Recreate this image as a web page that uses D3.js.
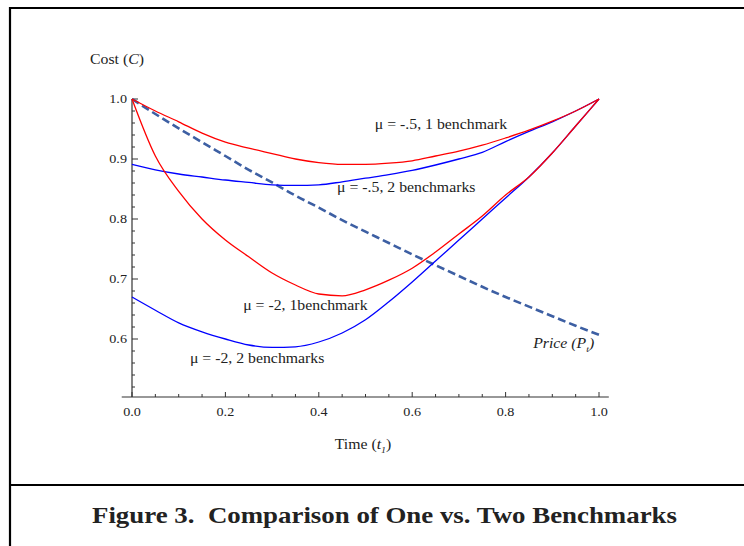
<!DOCTYPE html>
<html>
<head>
<meta charset="utf-8">
<script src="https://cdn.jsdelivr.net/npm/d3@7"></script>
<style>
body{margin:0;background:#fff;}
svg text{font-family:"Liberation Serif","Times New Roman",serif;fill:#222;}
</style>
</head>
<body>
<svg id="chart" width="744" height="546"></svg>
<script>
// time grid (t)
var times=[0,0.05,0.1,0.15,0.2,0.25,0.3,0.35,0.4,0.45,0.5,0.55,0.6,0.65,0.7,0.75,0.8,0.85,0.9,0.95,1.0];
// mu=-.5, one benchmark
var costHalfOne=[1.0,0.98,0.962,0.943,0.928,0.918,0.909,0.9,0.894,0.891,0.891,0.893,0.897,0.905,0.913,0.923,0.935,0.948,0.963,0.98,1.0];
// mu=-.5, two benchmarks
var costHalfTwo=[0.891,0.882,0.875,0.87,0.865,0.861,0.857,0.856,0.857,0.862,0.868,0.874,0.881,0.89,0.9,0.911,0.929,0.946,0.962,0.98,1.0];
// mu=-2, one benchmark
var costTwoOne=[1.0,0.905,0.846,0.8,0.765,0.737,0.71,0.69,0.675,0.672,0.682,0.698,0.718,0.745,0.775,0.805,0.84,0.87,0.91,0.955,1.0];
// mu=-2, two benchmarks
var costTwoTwo=[0.67,0.648,0.627,0.612,0.6,0.59,0.586,0.587,0.595,0.61,0.632,0.662,0.695,0.73,0.765,0.8,0.835,0.87,0.91,0.955,1.0];
// price path
var price=[1.0,0.975,0.951,0.928,0.905,0.882,0.861,0.839,0.819,0.798,0.779,0.76,0.741,0.723,0.705,0.687,0.67,0.654,0.638,0.622,0.607];

var xTicks=[0,0.2,0.4,0.6,0.8,1.0];
var yTicks=[0.6,0.7,0.8,0.9,1.0];

// labels: text, anchor t, anchor C
var curveLabels=[
	{text:"\u03bc = -.5, 1 benchmark",t:0.520,c:0.950},
	{text:"\u03bc = -.5, 2 benchmarks",t:0.439,c:0.845},
	{text:"\u03bc = -2, 1benchmark",t:0.238,c:0.649},
	{text:"\u03bc = -2, 2 benchmarks",t:0.124,c:0.560}
];

var svg=d3.select("#chart");
var stretch=1.09; // reference type is set a bit wide

// widen a text element horizontally around its own anchor point
function widen(sel,k){
	sel.each(function(){
		var el=d3.select(this),ax=+el.attr("x"),ay=+el.attr("y");
		el.attr("transform","translate("+ax+","+ay+") scale("+k+",1) translate("+(-ax)+","+(-ay)+")");
	});
	return sel;
}

// frame
svg.append("path")
	.attr("d","M10,546 L10,8 L744,8")
	.attr("fill","none").attr("stroke","#000").attr("stroke-width",2.2);
svg.append("line")
	.attr("x1",10).attr("x2",744).attr("y1",485).attr("y2",485)
	.attr("stroke","#000").attr("stroke-width",2.2);

var x=d3.scaleLinear().domain([0,1]).range([132,599]);
var y=d3.scaleLinear().domain([0.6,1]).range([339,99]);
var xMin=-0.022,xMax=1.021,yMin=y.invert(397);

var axisColor="#333";
var g=svg.append("g");

// axes lines
g.append("line").attr("x1",x(xMin)).attr("x2",x(xMax)).attr("y1",y(yMin)).attr("y2",y(yMin))
	.attr("stroke",axisColor).attr("stroke-width",1.2);
g.append("line").attr("x1",x(0)).attr("x2",x(0)).attr("y1",y(yMin)).attr("y2",y(1))
	.attr("stroke",axisColor).attr("stroke-width",1.2);

// x ticks, minor every .05
var xMinor=d3.range(0,1.0001,0.05);
g.selectAll(".xt").data(xMinor).enter().append("line")
	.attr("x1",d=>x(d)).attr("x2",d=>x(d))
	.attr("y1",y(yMin))
	.attr("y2",(d,i)=>y(yMin)-(i%4===0?5:3))
	.attr("stroke",axisColor).attr("stroke-width",1);
widen(g.selectAll(".xl").data(xTicks).enter().append("text")
	.attr("x",d=>x(d)).attr("y",416)
	.attr("text-anchor","middle").attr("font-size",13)
	.text(d=>d3.format(".1f")(d)),stretch);

// y ticks, minor every .02
var yMinor=d3.range(0,25).map(i=>1-i*0.02).filter(v=>v>yMin);
g.selectAll(".yt").data(yMinor).enter().append("line")
	.attr("x1",x(0))
	.attr("x2",(d,i)=>x(0)+(i%5===0?6:3))
	.attr("y1",d=>y(d)).attr("y2",d=>y(d))
	.attr("stroke",axisColor).attr("stroke-width",1);
widen(g.selectAll(".yl").data(yTicks).enter().append("text")
	.attr("x",127).attr("y",d=>y(d)+4.5)
	.attr("text-anchor","end").attr("font-size",13)
	.text(d=>d3.format(".1f")(d)),stretch);

// axis titles
var yt=svg.append("text").attr("x",90).attr("y",64).attr("font-size",14.5);
yt.append("tspan").text("Cost (");
yt.append("tspan").attr("font-style","italic").text("C");
yt.append("tspan").text(")");
widen(yt,stretch);

var xt=svg.append("text").attr("x",363).attr("y",449).attr("font-size",14.5).attr("text-anchor","middle");
xt.append("tspan").text("Time (");
xt.append("tspan").attr("font-style","italic").text("t");
xt.append("tspan").attr("font-style","italic").attr("font-size",9).attr("dy",4).text("1");
xt.append("tspan").attr("dy",-4).text(")");
widen(xt,stretch);

// curves
var line=d3.line().x((d,i)=>x(times[i])).y(d=>y(d)).curve(d3.curveMonotoneX);
function drawCurve(vals,color,width,dash){
	var p=svg.append("path").datum(vals)
		.attr("d",line)
		.attr("fill","none")
		.attr("stroke",color)
		.attr("stroke-width",width);
	if(dash) p.attr("stroke-dasharray",dash);
	return p;
}
drawCurve(price,"#3d5fa3",2.6,"8,4");
drawCurve(costTwoTwo,"#0000ff",1.3);
drawCurve(costHalfTwo,"#0000ff",1.3);
drawCurve(costTwoOne,"#ff0000",1.3);
drawCurve(costHalfOne,"#ff0000",1.3);

// curve labels
widen(svg.selectAll(".cl").data(curveLabels).enter().append("text")
	.attr("x",d=>x(d.t)).attr("y",d=>y(d.c))
	.attr("font-size",14.5)
	.text(d=>d.text),stretch);

var pl=svg.append("text").attr("x",x(0.859)).attr("y",y(0.585)).attr("font-size",14.5).attr("font-style","italic");
pl.append("tspan").text("Price (P");
pl.append("tspan").attr("font-size",9).attr("dy",4).text("t");
pl.append("tspan").attr("dy",-4).text(")");
widen(pl,stretch);

// caption
svg.append("text")
	.attr("x",384.5).attr("y",523)
	.attr("text-anchor","middle")
	.attr("font-size",23).attr("font-weight","bold")
	.attr("textLength",585).attr("lengthAdjust","spacingAndGlyphs")
	.attr("fill","#000")
	.attr("xml:space","preserve")
	.text("Figure 3.  Comparison of One vs. Two Benchmarks");
</script>
</body>
</html>
